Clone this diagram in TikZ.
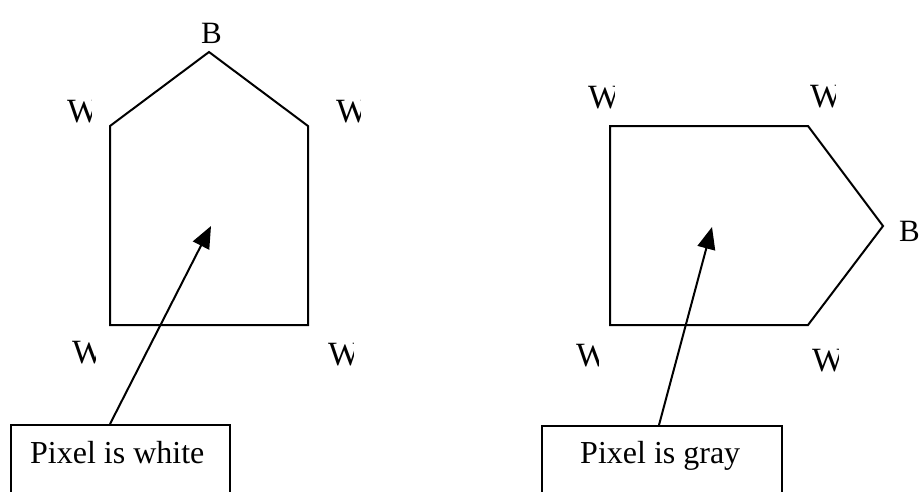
\documentclass[tikz,border=0pt]{standalone}
\usepackage{fontspec}
\setmainfont{Liberation Serif}
\usetikzlibrary{arrows.meta}
\tikzset{
  edge/.style={line width=2pt, line join=miter},
  arr/.style={line width=2pt, -{Triangle[length=22pt,width=18pt]}},
  lbl/.style={font=\fontsize{31}{36}\selectfont, inner sep=0pt, anchor=base west},
  wlbl/.style={font=\fontsize{34}{40}\selectfont, inner sep=0pt, anchor=base west},
  txt/.style={font=\fontsize{32}{38}\selectfont, inner sep=0pt, anchor=base west},
  boxst/.style={draw, line width=2pt, anchor=north west, inner sep=0pt}
}
\begin{document}
\begin{tikzpicture}[x=1pt,y=-1pt]
\useasboundingbox (0,0) rectangle (920,491);
\clip (0,0) rectangle (920,491);
\fill[white] (0,0) rectangle (920,491);
% left house shape
\coordinate (ltop) at (209,52);
\coordinate (lul) at (110,126);
\coordinate (lur) at (308,126);
\coordinate (lbl) at (110,325);
\coordinate (lbr) at (308,325);
\draw[edge] (lbl) -- (lul) -- (ltop) -- (lur) -- (lbr) -- cycle;
% right shape
\coordinate (rul) at (610,126);
\coordinate (rur) at (808,126);
\coordinate (rtip) at (883,226);
\coordinate (rbr) at (808,325);
\coordinate (rbl) at (610,325);
\draw[edge] (rbl) -- (rul) -- (rur) -- (rtip) -- (rbr) -- cycle;
% B labels
\node[lbl] (bl) at (201,43) {B};
\node[lbl] (br) at (899,241) {B};
% clipped W labels
\begin{scope}\clip (60,90) rectangle (91,130);\node[wlbl] (w1) at (67,122) {W};\end{scope}
\begin{scope}\clip (330,90) rectangle (360,130);\node[wlbl] (w2) at (336,122) {W};\end{scope}
\begin{scope}\clip (60,330) rectangle (95,372);\node[wlbl] (w3) at (72,363) {W};\end{scope}
\begin{scope}\clip (320,330) rectangle (353,372);\node[wlbl] (w4) at (328,365) {W};\end{scope}
\begin{scope}\clip (580,75) rectangle (614,115);\node[wlbl] (w5) at (588,108) {W};\end{scope}
\begin{scope}\clip (800,75) rectangle (835,115);\node[wlbl] (w6) at (810,107) {W};\end{scope}
\begin{scope}\clip (570,335) rectangle (598,375);\node[wlbl] (w7) at (576,366) {W};\end{scope}
\begin{scope}\clip (800,335) rectangle (838,380);\node[wlbl] (w8) at (812,371) {W};\end{scope}
% boxes
\node[boxst, minimum width=219pt, minimum height=120pt] (lbox) at (10,424) {};
\node[txt] (ltext) at (30,463) {Pixel is white};
\node[boxst, minimum width=240pt, minimum height=120pt] (rbox) at (541,425) {};
\node[txt] (rtext) at (580,463) {Pixel is gray};
% arrows
\coordinate (lbase) at (110,424);
\coordinate (lhead) at (211,226);
\coordinate (rbase) at (659,425);
\coordinate (rhead) at (712,227);
\draw[arr] (lbase) -- (lhead);
\draw[arr] (rbase) -- (rhead);
\end{tikzpicture}
\end{document}
